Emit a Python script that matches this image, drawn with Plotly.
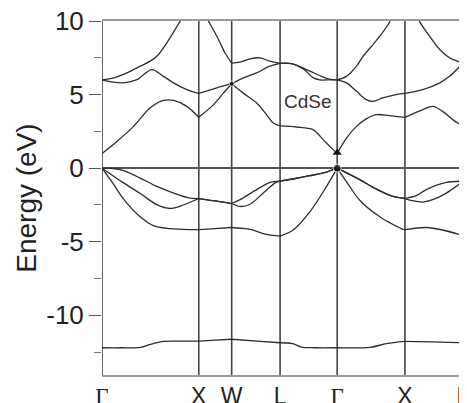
import plotly.graph_objects as go

# high-symmetry points along the k-path (path length, arbitrary units)
kpoint_pos = [0.0, 1.0, 1.34, 1.84, 2.43, 3.13, 3.73]
kpoint_labels = ["Γ", "X", "W", "L", "Γ", "X", "L"]

# energy tick labels
y_ticks = [-10, -5, 0, 5, 10]
y_ticktext = ["-10", "-5", "0", "5", "10"]

# --- bands (k, E in eV) ---
core_k = [0, 0.2, 0.4, 0.5, 0.64, 0.8, 1.0, 1.17, 1.34, 1.6, 1.84, 1.97, 2.06, 2.2, 2.43, 2.77, 2.94, 3.13, 3.4, 3.73]
core_E = [-12.2, -12.2, -12.17, -11.97, -11.77, -11.75, -11.75, -11.68, -11.62, -11.75, -11.86, -11.92, -12.15, -12.2, -12.2, -12.17, -11.92, -11.77, -11.8, -11.86]

vlow_k = [0, 0.11, 0.223, 0.395, 0.53, 0.70, 0.91, 1.0, 1.17, 1.34, 1.43, 1.53, 1.70, 1.84, 1.975, 2.147, 2.32, 2.43, 2.55, 2.663, 2.87, 3.11, 3.13, 3.35, 3.52, 3.73]
vlow_E = [0, -1.0, -2.1, -3.3, -3.9, -4.1, -4.17, -4.17, -4.1, -4.03, -4.08, -4.15, -4.5, -4.62, -4.2, -2.97, -1.24, 0, -1.15, -2.18, -3.3, -4.15, -4.17, -4.03, -4.2, -4.58]

vmid_k = [0, 0.223, 0.395, 0.567, 0.704, 0.84, 1.0, 1.17, 1.34, 1.426, 1.53, 1.666, 1.79, 1.84, 2.0, 2.147, 2.32, 2.43, 2.663, 2.835, 3.006, 3.13, 3.2, 3.315, 3.45, 3.557, 3.73]
vmid_E = [0, -1.0, -1.72, -2.48, -2.74, -2.5, -2.06, -2.22, -2.4, -2.6, -2.45, -1.69, -1.0, -0.88, -0.7, -0.51, -0.26, 0, -0.78, -1.42, -1.92, -2.06, -2.2, -2.3, -2.05, -1.69, -0.9]

vtop_k = [0, 0.12, 0.223, 0.395, 0.567, 0.74, 0.91, 1.0, 1.17, 1.34, 1.426, 1.598, 1.735, 1.84, 2.0, 2.147, 2.32, 2.43, 2.663, 2.835, 3.006, 3.13, 3.247, 3.35, 3.557, 3.73]
vtop_E = [0, -0.02, -0.16, -0.67, -1.24, -1.69, -2.04, -2.06, -2.22, -2.4, -2.14, -1.46, -0.96, -0.88, -0.7, -0.51, -0.26, 0, -0.78, -1.42, -1.92, -2.06, -1.87, -1.46, -0.97, -0.88]

c1_k = [0, 0.155, 0.326, 0.498, 0.635, 0.74, 0.876, 1.0, 1.15, 1.254, 1.34, 1.46, 1.598, 1.70, 1.77, 1.84, 2.01, 2.18, 2.285, 2.354, 2.43, 2.526, 2.63, 2.73, 2.835, 2.97, 3.13, 3.315, 3.42, 3.52, 3.625, 3.73]
c1_E = [1.0, 1.82, 2.84, 4.1, 4.61, 4.6, 4.2, 3.46, 4.3, 5.1, 5.74, 5.1, 4.43, 3.64, 3.07, 2.87, 2.8, 2.62, 1.94, 1.48, 1.0, 2.05, 2.84, 3.35, 3.64, 3.57, 3.45, 3.98, 4.2, 3.86, 3.3, 2.84]

c2_k = [0, 0.1, 0.223, 0.36, 0.515, 0.635, 0.738, 0.876, 1.0, 1.186, 1.34, 1.46, 1.598, 1.735, 1.84, 1.96, 2.08, 2.18, 2.25, 2.35, 2.43, 2.526, 2.63, 2.73, 2.8, 2.9, 3.04, 3.13, 3.315, 3.49, 3.59, 3.73]
c2_E = [6.0, 5.86, 5.8, 6.02, 6.7, 6.24, 5.8, 5.34, 5.08, 5.46, 5.74, 6.14, 6.48, 6.93, 7.12, 7.1, 6.75, 6.15, 6.0, 6.0, 6.0, 5.8, 5.22, 4.66, 4.54, 4.77, 5.0, 5.08, 5.34, 5.8, 6.24, 7.14]

c3a_k = [0, 0.12, 0.258, 0.395, 0.498, 0.567, 0.67, 0.807, 0.85]
c3a_E = [6.0, 6.14, 6.48, 6.93, 7.27, 7.6, 8.52, 9.99, 10.5]

c3b_k = [1.06, 1.1, 1.168, 1.22, 1.27, 1.34, 1.426, 1.53, 1.63, 1.735, 1.84, 1.96, 2.08, 2.18, 2.28, 2.36, 2.43, 2.526, 2.63, 2.697, 2.8, 2.87, 2.97, 3.0]
c3b_E = [10.5, 9.99, 9.2, 8.52, 7.84, 7.14, 7.2, 7.43, 7.5, 7.27, 7.12, 7.1, 6.8, 6.5, 6.2, 6.03, 6.0, 6.24, 6.93, 7.6, 8.4, 8.97, 9.92, 10.5]

c3c_k = [3.26, 3.28, 3.385, 3.49, 3.59, 3.73]
c3c_E = [10.5, 9.99, 8.97, 8.06, 7.5, 7.14]

bands = [
    (core_k, core_E), (vlow_k, vlow_E), (vmid_k, vmid_E), (vtop_k, vtop_E),
    (c1_k, c1_E), (c2_k, c2_E), (c3a_k, c3a_E), (c3b_k, c3b_E), (c3c_k, c3c_E),
]

# marked states
dot_k = [1.34, 2.43]
dot_E = [5.74, 0.0]
tri_k = [2.43]
tri_E = [1.05]

band_color = "#2e2e2e"
fig = go.Figure()


def split_at_nodes(k, e):
    segs = []
    cur_k, cur_e = [k[0]], [e[0]]
    for kk, ee in zip(k[1:], e[1:]):
        cur_k.append(kk)
        cur_e.append(ee)
        if any(abs(kk - p) < 1e-6 for p in kpoint_pos):
            segs.append((cur_k, cur_e))
            cur_k, cur_e = [kk], [ee]
    if len(cur_k) > 1:
        segs.append((cur_k, cur_e))
    return segs


for bk, be in bands:
    for sk, se in split_at_nodes(bk, be):
        fig.add_trace(go.Scatter(
            x=sk, y=se, mode="lines",
            line=dict(color=band_color, width=1.3, shape="spline", smoothing=0.9),
            hoverinfo="skip", showlegend=False,
        ))

# vertical lines at high-symmetry points
for p in kpoint_pos:
    fig.add_vline(x=p, line=dict(color="#444444", width=1.6), layer="below")

fig.add_trace(go.Scatter(x=dot_k, y=dot_E, mode="markers",
                         marker=dict(color="#111111", size=[5, 8]),
                         hoverinfo="skip", showlegend=False))
fig.add_trace(go.Scatter(x=tri_k, y=tri_E, mode="markers",
                         marker=dict(color="#111111", size=8, symbol="triangle-up"),
                         hoverinfo="skip", showlegend=False))

fig.add_annotation(x=2.13, y=4.5, text="CdSe", showarrow=False,
                   font=dict(family="Liberation Sans, Arial", size=19, color="#333333"))

ticktext_x = [
    '<span style="font-family:Liberation Serif">Γ</span>' if t == "Γ" else t
    for t in kpoint_labels
]

# the page body adds an 8px offset, so the figure is sized to end at the window edge
fig.update_layout(
    width=459, height=395,
    margin=dict(l=94, r=4, t=13, b=28),
    paper_bgcolor="white", plot_bgcolor="white",
    font=dict(family="Liberation Sans, Arial", size=26, color="#222222"),
    xaxis=dict(
        range=[kpoint_pos[0], kpoint_pos[-1]],
        tickvals=kpoint_pos, ticktext=ticktext_x,
        tickfont=dict(size=23),
        showgrid=False, zeroline=False, ticks="",
        showline=True, linecolor="#9a9a9a", linewidth=1.5, mirror=True,
        ticklabelstandoff=0, automargin=False, ticklabeloverflow="allow",
    ),
    yaxis=dict(
        range=[-14.05, 10],
        tickvals=y_ticks, ticktext=y_ticktext,
        ticks="outside", ticklen=12, tickwidth=1.3, tickcolor="#555555",
        minor=dict(dtick=2.5, tick0=0, ticks="outside", ticklen=7, tickcolor="#777777", tickwidth=1.2, showgrid=False),
        showgrid=False,
        zeroline=True, zerolinecolor="#555555", zerolinewidth=1.6,
        showline=False, automargin=False, ticklabeloverflow="allow",
        title=dict(text="Energy (eV)", font=dict(size=28), standoff=1),
    ),
)

fig.write_html("out.html")
